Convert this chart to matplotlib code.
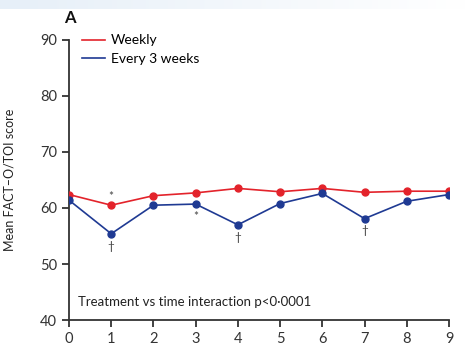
import numpy as np
import matplotlib
matplotlib.use("Agg")
import matplotlib.pyplot as plt

plt.rcParams['font.family'] = ['Lato', 'DejaVu Sans']

weeks = [0, 1, 2, 3, 4, 5, 6, 7, 8, 9]
weekly = [62.4, 60.5, 62.2, 62.7, 63.5, 62.9, 63.5, 62.8, 63.0, 63.0]
every3 = [61.4, 55.4, 60.5, 60.7, 57.0, 60.8, 62.6, 58.1, 61.2, 62.4]

star_weeks = [1]          # above the weekly series
star_below = [3]          # below the every-3-weeks series
dagger_weeks = [1, 4, 7]  # below the every-3-weeks series

red = '#e3232b'
blue = '#1f3a93'

fig = plt.figure(figsize=(4.66, 3.46), dpi=100)

# faint banner along the top edge
band = fig.add_axes([0, 1 - 9 / 346, 1, 9 / 346])
grad = np.linspace(1, 0, 256)[None, :]
band.imshow(grad, aspect='auto', cmap=matplotlib.colors.LinearSegmentedColormap.from_list(
    'b', ['#ffffff', '#e6eff8']), extent=[0, 1, 0, 1])
band.axis('off')

ax = fig.add_axes([69 / 466, 1 - 320 / 346, 380 / 466, 280 / 346])

ax.plot(weeks, weekly, color=red, lw=1.2, marker='o', ms=5, zorder=3, label='Weekly')
ax.plot(weeks, every3, color=blue, lw=1.2, marker='o', ms=5, zorder=3, label='Every 3 weeks')

for w in star_weeks:
    ax.text(w, weekly[w] + 1.6, '*', ha='center', va='center', fontsize=8.5, color='#444444')
for w in star_below:
    ax.text(w, every3[w] - 2.3, '*', ha='center', va='center', fontsize=8.5, color='#444444')
for w in dagger_weeks:
    ax.text(w, every3[w] - 2.2, '\u2020', ha='center', va='center', fontsize=8.5, color='#444444')

ax.text(0.21, 43.2, 'Treatment vs time interaction p<0\u00b70001', fontsize=9.5,
        ha='left', va='center', color='#222222')

ax.set_xlim(0, 9)
ax.set_ylim(40, 90)
ax.set_xticks(weeks)
ax.set_yticks([40, 50, 60, 70, 80, 90])
ax.spines['top'].set_visible(False)
ax.spines['right'].set_visible(False)
for s in ('left', 'bottom'):
    ax.spines[s].set_linewidth(1.3)
    ax.spines[s].set_color('#333333')
ax.tick_params(direction='out', length=5, width=1.3, color='#333333',
               labelsize=10.5, labelcolor='#333333')
ax.set_ylabel('Mean FACT\u2013O/TOI score', fontsize=9, color='#222222', labelpad=10)
ax.yaxis.set_label_coords(-0.14, 0.5)

leg = ax.legend(loc='upper left', bbox_to_anchor=(0.034, 1.02), frameon=False,
                borderpad=0, borderaxespad=0,
                fontsize=10, handlelength=1.65, handletextpad=0.45, labelspacing=0.5)
for h in leg.legend_handles:
    h.set_marker('')

fig.text(70 / 466, 1 - 18 / 346, 'A', fontsize=12, fontweight='bold', ha='center',
         va='center', color='#111111')

fig.savefig('out.png', dpi=100)
